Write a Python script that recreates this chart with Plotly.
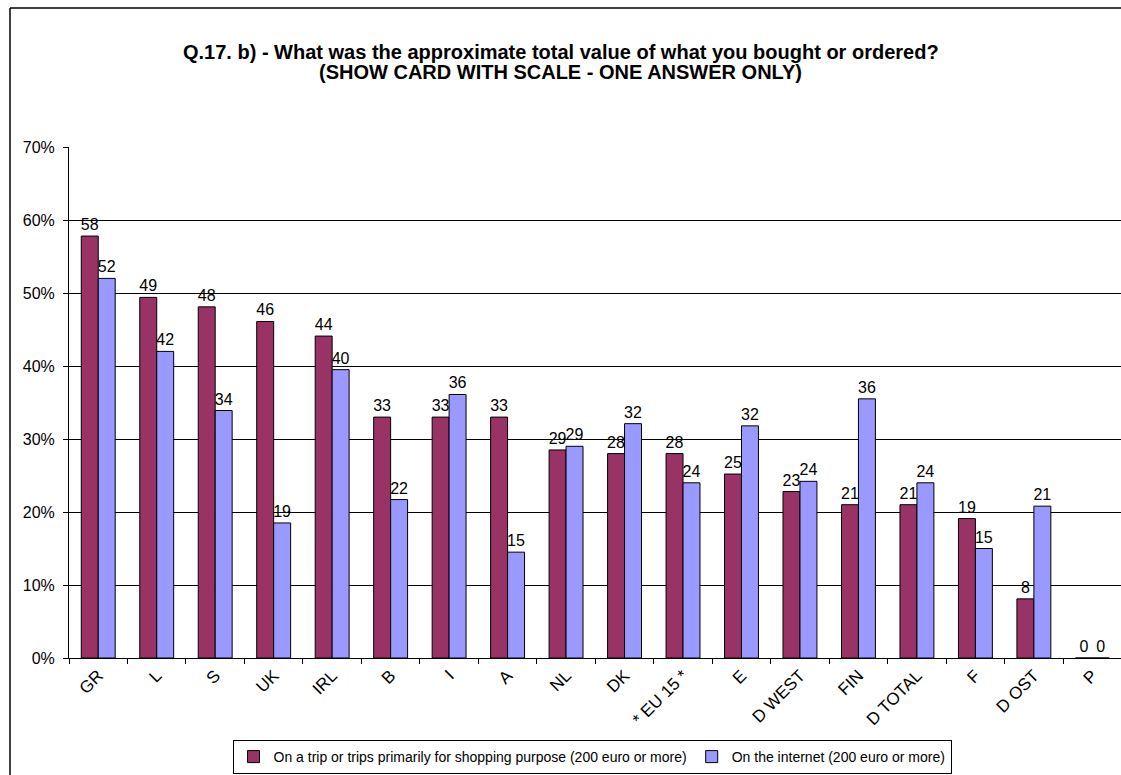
import plotly.graph_objects as go

categories = ["GR", "L", "S", "UK", "IRL", "B", "I", "A", "NL", "DK", "* EU 15 *",
              "E", "D WEST", "FIN", "D TOTAL", "F", "D OST", "P"]
trip_values = [57.8, 49.4, 48.1, 46.1, 44.1, 33.0, 33.0, 33.0, 28.5, 28.0, 28.0,
               25.2, 22.8, 21.0, 21.0, 19.1, 8.1, 0.0]
internet_values = [52.0, 42.0, 33.9, 18.5, 39.5, 21.7, 36.1, 14.5, 29.0, 32.1, 24.0,
                   31.8, 24.2, 35.5, 24.0, 15.0, 20.8, 0.0]
trip_labels = [58, 49, 48, 46, 44, 33, 33, 33, 29, 28, 28, 25, 23, 21, 21, 19, 8, 0]
internet_labels = [52, 42, 34, 19, 40, 22, 36, 15, 29, 32, 24, 32, 24, 36, 24, 15, 21, 0]
y_ticks = [0, 10, 20, 30, 40, 50, 60, 70]
y_tick_labels = ["0%", "10%", "20%", "30%", "40%", "50%", "60%", "70%"]
title_lines = ["Q.17. b) - What was the approximate total value of what you bought or ordered?",
               "(SHOW CARD WITH SCALE - ONE ANSWER ONLY)"]

FONT = "Liberation Sans, Arial, sans-serif"

fig = go.Figure()
fig.add_trace(go.Bar(
    x=categories, y=trip_values,
    name="On a trip or trips primarily for shopping purpose (200 euro or more)",
    marker=dict(color="#993366", line=dict(color="black", width=1)),
    text=[str(v) for v in trip_labels], textposition="outside",
    constraintext="none",
    textfont=dict(size=16, color="black", family=FONT), cliponaxis=False,
))
fig.add_trace(go.Bar(
    x=categories, y=internet_values, name="On the internet (200 euro or more)",
    marker=dict(color="#9999FF", line=dict(color="black", width=1)),
    text=[str(v) for v in internet_labels], textposition="outside",
    constraintext="none",
    textfont=dict(size=16, color="black", family=FONT), cliponaxis=False,
))

W, H = 1121, 775
ml, mr, mt, mb = 69, 0, 147, 117
pw = W - ml - mr
ph = H - mt - mb


def px_x(x):
    return (x - ml) / pw


def px_y(y):
    return (H - mb - y) / ph


annotations = [
    dict(text="<b>%s</b>" % title_lines[0], xref="paper", yref="paper",
         x=px_x(W / 2), y=px_y(52), xanchor="center", yanchor="middle",
         showarrow=False, font=dict(size=20, family=FONT, color="black")),
    dict(text="<b>%s</b>" % title_lines[1], xref="paper", yref="paper",
         x=px_x(W / 2), y=px_y(72), xanchor="center", yanchor="middle",
         showarrow=False, font=dict(size=20, family=FONT, color="black")),
]

fig.update_layout(
    width=W, height=H,
    margin=dict(l=ml, r=mr, t=mt, b=mb),
    paper_bgcolor="white", plot_bgcolor="white",
    font=dict(family=FONT, color="black"),
    barmode="group", bargap=0.42, bargroupgap=0,
    annotations=annotations,
    xaxis=dict(
        range=[-0.5, -0.5 + (1125 - ml) / 58.7],
        showline=True, linecolor="black", linewidth=1,
        ticks="outside", tickson="boundaries", ticklen=5, tickcolor="black",
        tickangle=-45, tickfont=dict(size=17, family=FONT),
        showgrid=False,
    ),
    yaxis=dict(
        range=[0, 70], tickvals=y_ticks, ticktext=y_tick_labels,
        showline=True, linecolor="black", linewidth=1,
        ticks="outside", ticklen=5, tickcolor="black",
        ticklabelstandoff=5,
        tickfont=dict(size=16, family=FONT),
        showgrid=True, gridcolor="black", gridwidth=1,
        zeroline=False,
    ),
    legend=dict(
        orientation="h", x=px_x(592), xanchor="center",
        y=px_y(740), yanchor="top",
        bordercolor="black", borderwidth=1, bgcolor="white",
        font=dict(size=14, family=FONT),
        itemwidth=30,
    ),
    showlegend=True,
    shapes=[
        dict(type="line", xref="paper", yref="paper",
             x0=px_x(10), x1=px_x(1125), y0=px_y(8), y1=px_y(8),
             line=dict(color="black", width=1.5)),
        dict(type="line", xref="paper", yref="paper",
             x0=px_x(10), x1=px_x(10), y0=px_y(8), y1=px_y(780),
             line=dict(color="black", width=1.5)),
    ],
)

fig.write_html("out.html",
               config={"displayModeBar": False},
               post_script="document.body.style.margin='0';document.body.style.overflow='hidden';")
